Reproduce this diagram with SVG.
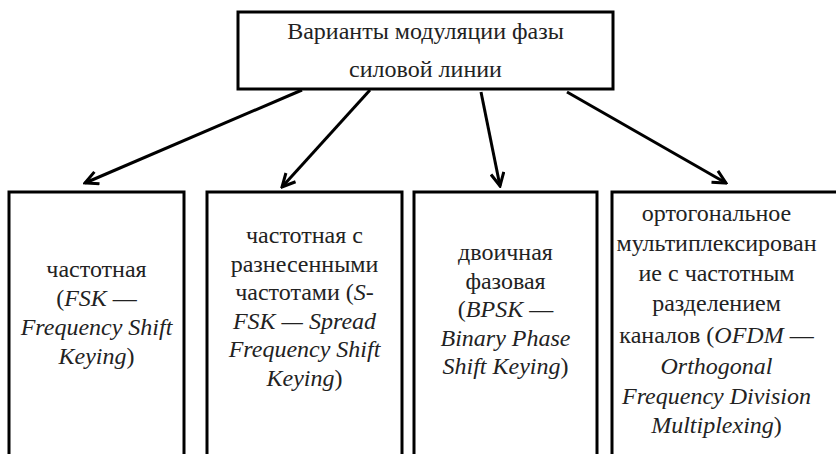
<svg xmlns="http://www.w3.org/2000/svg" width="836" height="454" viewBox="0 0 836 454">
<defs>
<style>
.box{fill:#fff;stroke:#000;stroke-width:3}
.t{font-family:"Liberation Serif","Times New Roman",Tinos,"Nimbus Roman","FreeSerif","Noto Serif","DejaVu Serif",serif;font-size:24px;fill:#222;text-anchor:middle}
.i{font-style:italic}
.c{stroke:#000;stroke-width:3;fill:none}
</style>
<marker id="ah" viewBox="0 0 16 16" markerWidth="16" markerHeight="16" refX="14" refY="8" orient="auto" markerUnits="userSpaceOnUse">
<path d="M1,1.5 L14,8 L1,14.5" fill="none" stroke="#000" stroke-width="3"/>
</marker>
</defs>
<rect width="836" height="454" fill="#fff"/>
<g id="connectors">
<line class="c" x1="302" y1="90" x2="85" y2="183" marker-end="url(#ah)"/>
<line class="c" x1="370" y1="90" x2="282" y2="187" marker-end="url(#ah)"/>
<line class="c" x1="481" y1="92" x2="500" y2="186" marker-end="url(#ah)"/>
<line class="c" x1="567" y1="92" x2="726" y2="183" marker-end="url(#ah)"/>
</g>
<g id="root">
<rect class="box" x="238" y="12" width="375" height="77"/>
<text class="t" x="425.5" y="39">Варианты модуляции фазы</text>
<text class="t" x="425.5" y="77">силовой линии</text>
</g>
<g id="fsk">
<rect class="box" x="9" y="192" width="175" height="290"/>
<text class="t" x="96.5" y="277">частотная</text>
<text class="t" x="96.5" y="306">(<tspan class="i">FSK</tspan> —</text>
<text class="t i" x="96.5" y="335">Frequency Shift</text>
<text class="t" x="96.5" y="364"><tspan class="i">Keying</tspan>)</text>
</g>
<g id="sfsk">
<rect class="box" x="207" y="192" width="195" height="290"/>
<text class="t" x="304.5" y="243">частотная с</text>
<text class="t" x="304.5" y="271.5">разнесенными</text>
<text class="t" x="304.5" y="300">частотами (<tspan class="i">S-</tspan></text>
<text class="t i" x="304.5" y="328.5">FSK — Spread</text>
<text class="t i" x="304.5" y="357">Frequency Shift</text>
<text class="t" x="304.5" y="385.5"><tspan class="i">Keying</tspan>)</text>
</g>
<g id="bpsk">
<rect class="box" x="414" y="192" width="183" height="290"/>
<text class="t" x="505.5" y="260">двоичная</text>
<text class="t" x="505.5" y="288.5">фазовая</text>
<text class="t" x="505.5" y="317">(<tspan class="i">BPSK</tspan> —</text>
<text class="t i" x="505.5" y="345.5">Binary Phase</text>
<text class="t" x="505.5" y="374"><tspan class="i">Shift Keying</tspan>)</text>
</g>
<g id="ofdm">
<rect class="box" x="612" y="192" width="260" height="290"/>
<text class="t" x="716.5" y="221">ортогональное</text>
<text class="t" x="716.5" y="251">мультиплексирован</text>
<text class="t" x="716.5" y="281">ие с частотным</text>
<text class="t" x="716.5" y="311">разделением</text>
<text class="t" x="716.5" y="343">каналов (<tspan class="i">OFDM</tspan> —</text>
<text class="t i" x="716.5" y="374">Orthogonal</text>
<text class="t i" x="716.5" y="404">Frequency Division</text>
<text class="t" x="716.5" y="433"><tspan class="i">Multiplexing</tspan>)</text>
</g>
</svg>
